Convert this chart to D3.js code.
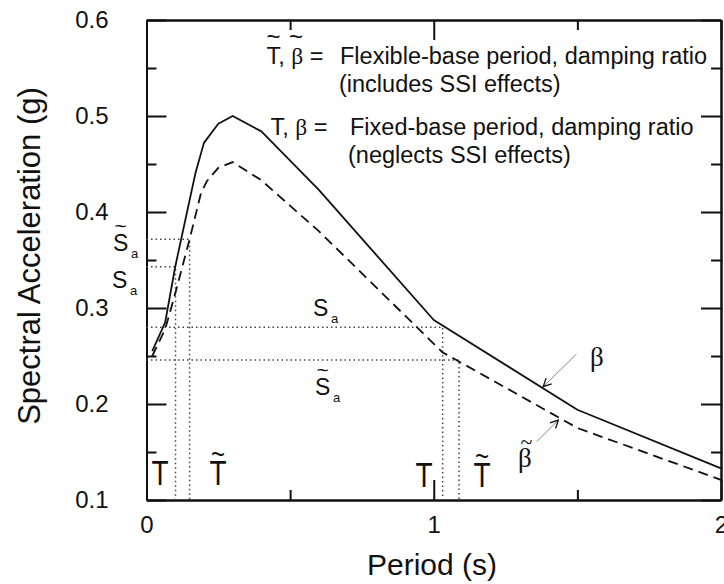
<!DOCTYPE html>
<html>
<head>
<meta charset="utf-8">
<script src="https://cdn.jsdelivr.net/npm/d3@7"></script>
<style>
  body { margin: 0; background: #fff; }
  svg { display: block; font-family: "Liberation Sans", Arial, sans-serif; }
</style>
</head>
<body>
<svg id="chart" width="724" height="584"></svg>
<script>
// fixed-base response (solid) and flexible-base response (dashed)
var periodFixed = [0.02, 0.065, 0.1, 0.17, 0.2, 0.25, 0.3, 0.4, 0.6, 1.0, 1.5, 2.0];
var saFixed     = [0.255, 0.285, 0.343, 0.44, 0.472, 0.492, 0.5, 0.484, 0.423, 0.2875, 0.194, 0.133];
var periodFlex  = [0.02, 0.065, 0.1, 0.15, 0.19, 0.21, 0.25, 0.3, 0.4, 0.6, 1.03, 1.5, 2.0];
var saFlex      = [0.25, 0.278, 0.315, 0.3715, 0.42, 0.432, 0.446, 0.452, 0.433, 0.38, 0.254, 0.175, 0.121];

// dotted read-off lines: T / Sa (fixed) and T~ / Sa~ (flexible)
var refT      = [0.101, 1.031];
var refSa     = [0.343, 0.28];
var refTFlex  = [0.15, 1.088];
var refSaFlex = [0.3715, 0.2458];

var xMajor = [0, 1, 2];
var xMinor = [0.5, 1.5];
var yMajor = [0.1, 0.2, 0.3, 0.4, 0.5, 0.6];
var yMinor = [0.15, 0.25, 0.35, 0.45, 0.55];

// arrows pointing at the curves [T, Sa] from -> to
var betaArrow     = [[1.497, 0.252], [1.381, 0.218]];
var betaFlexArrow = [[1.358, 0.1607], [1.434, 0.1833]];

var svg = d3.select("#chart");
var x = d3.scaleLinear().domain([0, 2]).range([146.5, 721]);
var y = d3.scaleLinear().domain([0.1, 0.6]).range([500, 20]);

function styleAxis(g) {
	g.selectAll("line,path").attr("stroke", "#111").attr("stroke-width", 2);
	g.selectAll("text").attr("font-size", 24).attr("font-family", "Liberation Sans, Arial, sans-serif").attr("fill", "#111");
}

// bottom
svg.append("g").attr("transform", "translate(0,500)")
	.call(d3.axisBottom(x).tickValues(xMajor).tickSize(-20).tickSizeOuter(0).tickPadding(16).tickFormat(d3.format("d")))
	.call(styleAxis);
svg.append("g").attr("transform", "translate(0,500)")
	.call(d3.axisBottom(x).tickValues(xMinor).tickSize(-10).tickSizeOuter(0).tickFormat(""))
	.call(styleAxis);
// top
svg.append("g").attr("transform", "translate(0,20)")
	.call(d3.axisTop(x).tickValues(xMajor).tickSize(-20).tickSizeOuter(0).tickFormat(""))
	.call(styleAxis);
svg.append("g").attr("transform", "translate(0,20)")
	.call(d3.axisTop(x).tickValues(xMinor).tickSize(-10).tickSizeOuter(0).tickFormat(""))
	.call(styleAxis);
// left
svg.append("g").attr("transform", "translate(146.5,0)")
	.call(d3.axisLeft(y).tickValues(yMajor).tickSize(-20).tickSizeOuter(0).tickPadding(38).tickFormat(d3.format(".1f")))
	.call(styleAxis);
svg.append("g").attr("transform", "translate(146.5,0)")
	.call(d3.axisLeft(y).tickValues(yMinor).tickSize(-10).tickSizeOuter(0).tickFormat(""))
	.call(styleAxis);
// right
svg.append("g").attr("transform", "translate(721,0)")
	.call(d3.axisRight(y).tickValues(yMajor).tickSize(-20).tickSizeOuter(0).tickFormat(""))
	.call(styleAxis);
svg.append("g").attr("transform", "translate(721,0)")
	.call(d3.axisRight(y).tickValues(yMinor).tickSize(-10).tickSizeOuter(0).tickFormat(""))
	.call(styleAxis);

// dotted guides
var dots = svg.append("g").attr("stroke", "#444").attr("stroke-width", 1.5)
	.attr("stroke-dasharray", "1.5,3").attr("fill", "none");
function guide(t, s) {
	dots.append("path").attr("d", d3.line()([[x(0), y(s)], [x(t), y(s)], [x(t), y(0.1)]]));
}
refT.forEach(function(t, i) { guide(t, refSa[i]) });
refTFlex.forEach(function(t, i) { guide(t, refSaFlex[i]) });

// curves
var line = d3.line().x(function(d) { return x(d[0]) }).y(function(d) { return y(d[1]) });
svg.append("path")
	.datum(periodFixed.map(function(t, i) { return [t, saFixed[i]] }))
	.attr("d", line).attr("fill", "none").attr("stroke", "#111").attr("stroke-width", 1.8)
	.attr("stroke-linejoin", "round");
svg.append("path")
	.datum(periodFlex.map(function(t, i) { return [t, saFlex[i]] }))
	.attr("d", line).attr("fill", "none").attr("stroke", "#111").attr("stroke-width", 1.8)
	.attr("stroke-dasharray", "10,6");

// arrows
svg.append("defs").append("marker")
	.attr("id", "head").attr("viewBox", "-1 -5 10 10").attr("refX", 8).attr("refY", 0)
	.attr("markerWidth", 10).attr("markerHeight", 10).attr("markerUnits", "userSpaceOnUse")
	.attr("orient", "auto")
	.append("path").attr("d", "M0,-4L8,0L0,4").attr("fill", "none").attr("stroke", "#111").attr("stroke-width", 1.3);
[betaArrow, betaFlexArrow].forEach(function(a) {
	svg.append("path").attr("d", line(a)).attr("stroke", "#888").attr("stroke-width", 1)
		.attr("fill", "none").attr("marker-end", "url(#head)");
});

// text helpers
function txt(str, px, py, fs, anchor) {
	return svg.append("text").attr("x", px).attr("y", py).attr("font-size", fs).attr("fill", "#111")
		.attr("text-anchor", anchor || "start").text(str);
}
// a "~" placed over a letter, kept in the same text element
function tildeSpan(t, cx, cy, fs) {
	t.append("tspan").attr("x", cx - 0.29 * fs).attr("y", cy + 0.34 * fs).attr("font-size", fs).text("~");
}

// axis titles
txt("Spectral Acceleration (g)", 0, 0, 31, "middle").attr("transform", "translate(40,256) rotate(-90)");
txt("Period (s)", 432, 575, 30, "middle");

// legend
var fsL = 23.5;
var l1 = svg.append("text").attr("x", 266.5).attr("y", 63.5).attr("font-size", fsL).attr("fill", "#111");
l1.append("tspan").text("T, ");
l1.append("tspan").attr("font-family", "Liberation Serif, serif").text("β");
l1.append("tspan").text(" = ");
tildeSpan(l1, 273.5, 37, 24);
tildeSpan(l1, 296, 37, 24);
txt("Flexible-base period, damping ratio", 340, 63.5, fsL);
txt("(includes SSI effects)", 339, 92, fsL);

var l2 = svg.append("text").attr("x", 270.5).attr("y", 135).attr("font-size", fsL).attr("fill", "#111");
l2.append("tspan").text("T, ");
l2.append("tspan").attr("font-family", "Liberation Serif, serif").text("β");
l2.append("tspan").text(" = ");
txt("Fixed-base period, damping ratio", 350, 135, fsL);
txt("(neglects SSI effects)", 348, 163, fsL);

// S_a labels
function sLabel(px, py, hasTilde) {
	var t = svg.append("text").attr("x", px).attr("y", py).attr("font-size", 23).attr("fill", "#111");
	t.append("tspan").text("S");
	t.append("tspan").attr("x", px + 18).attr("y", py + 7).attr("font-size", 13).text("a");
	if (hasTilde) tildeSpan(t, px + 7.5, py - 25, 21);
}
sLabel(113, 251, true);
sLabel(112, 288, false);
sLabel(313, 316, false);
sLabel(315, 395, true);

// period labels (tall narrow T)
function tLabel(cx, base, hasTilde) {
	var t = svg.append("text").attr("font-size", 28).attr("fill", "#111")
		.attr("transform", "translate(" + cx + "," + base + ") scale(1,1.25)");
	t.append("tspan").attr("x", -8.5).attr("y", 0).text("T");
	if (hasTilde) tildeSpan(t, 0, -25, 24);
}
tLabel(160, 485, false);
tLabel(218, 485, true);
tLabel(424, 487, false);
tLabel(482, 487, true);

// damping labels
txt("β", 590, 366, 27).attr("font-family", "Liberation Serif, serif");
var bf = txt("β", 518, 467, 27).attr("font-family", "Liberation Serif, serif");
tildeSpan(bf, 527, 442, 22);
</script>
</body>
</html>
